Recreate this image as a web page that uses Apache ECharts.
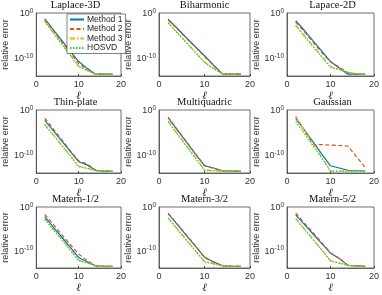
<!DOCTYPE html>
<html>
<head>
<meta charset="utf-8">
<script src="https://cdn.jsdelivr.net/npm/echarts@6/dist/echarts.min.js"></script>
<style>
html,body{margin:0;padding:0;background:#fff;}
#c{width:382px;height:295px;}
</style>
</head>
<body>
<div id="c"></div>
<script>
// ---------------- data ----------------
const ell = [2, 4, 6, 8, 10, 12, 14, 16, 18];
const titles = ['Laplace-3D', 'Biharmonic', 'Lapace-2D', 'Thin-plate', 'Multiquadric', 'Gaussian', 'Matern-1/2', 'Matern-3/2', 'Matern-5/2'];
const methodNames = ['Method 1', 'Method 2', 'Method 3', 'HOSVD'];
const xTicks = [0, 10, 20];
const yTickLabels = { '1': '0', '1e-10': '-10' };

const laplace3D_m1 = [5.0e-2, 2.0e-4, 7.9e-7, 3.2e-9, 1.6e-11, 5.0e-13, 2.5e-14, 2.5e-14, 2.5e-14];
const laplace3D_m2 = [3.2e-2, 1.3e-4, 4.0e-7, 1.6e-9, 6.3e-12, 2.5e-13, 2.5e-14, 2.5e-14, 2.5e-14];
const laplace3D_m3 = [1.6e-2, 5.0e-5, 1.6e-7, 5.0e-10, 1.6e-12, 2.0e-13, 2.5e-14, 2.5e-14, 2.5e-14];
const laplace3D_hosvd = [1.3e-2, 4.0e-5, 1.3e-7, 4.0e-10, 1.3e-12, 1.6e-13, 2.5e-14, 2.5e-14, 2.5e-14];

const biharmonic_m1 = [4.0e-2, 4.0e-4, 3.2e-6, 3.2e-8, 3.2e-10, 2.5e-12, 2.5e-14, 2.5e-14, 2.5e-14];
const biharmonic_m2 = [3.2e-2, 3.2e-4, 2.5e-6, 2.5e-8, 2.0e-10, 2.0e-12, 2.5e-14, 2.5e-14, 2.5e-14];
const biharmonic_m3 = [7.9e-3, 5.0e-5, 3.2e-7, 2.0e-9, 1.3e-11, 5.0e-13, 2.5e-14, 2.5e-14, 2.5e-14];
const biharmonic_hosvd = [6.3e-3, 4.0e-5, 2.5e-7, 1.6e-9, 1.0e-11, 4.0e-13, 2.5e-14, 2.5e-14, 2.5e-14];

const laplace2D_m1 = [2.0e-2, 1.3e-4, 6.3e-7, 3.2e-9, 1.6e-11, 6.3e-13, 2.5e-14, 2.5e-14, 2.5e-14];
const laplace2D_m2 = [1.0e-2, 6.3e-5, 3.2e-7, 1.6e-9, 1.3e-11, 1.0e-12, 6.3e-14, 2.5e-14, 2.5e-14];
const laplace2D_m3 = [2.0e-3, 1.0e-5, 5.0e-8, 2.5e-10, 1.3e-12, 3.2e-13, 6.3e-14, 3.2e-14, 2.5e-14];
const laplace2D_hosvd = [1.3e-3, 6.3e-6, 3.2e-8, 1.6e-10, 7.9e-13, 2.5e-13, 6.3e-14, 3.2e-14, 2.5e-14];

const thinPlate_m1 = [5.0e-3, 2.5e-5, 1.3e-7, 6.3e-10, 3.2e-12, 6.3e-13, 4.0e-14, 2.5e-14, 2.5e-14];
const thinPlate_m2 = [1.6e-2, 6.3e-5, 2.5e-7, 1.0e-9, 5.0e-12, 1.0e-12, 4.0e-14, 2.5e-14, 2.5e-14];
const thinPlate_m3 = [6.3e-4, 3.2e-6, 1.6e-8, 7.9e-11, 3.2e-13, 1.3e-13, 3.2e-14, 2.5e-14, 2.5e-14];
const thinPlate_hosvd = [5.0e-4, 2.5e-6, 1.3e-8, 6.3e-11, 2.5e-13, 1.0e-13, 3.2e-14, 2.5e-14, 2.5e-14];

const multiquadric_m1 = [2.0e-2, 4.0e-5, 7.9e-8, 1.6e-10, 4.0e-13, 1.3e-13, 3.2e-14, 2.5e-14, 2.5e-14];
const multiquadric_m2 = [2.5e-2, 5.0e-5, 1.0e-7, 2.0e-10, 5.0e-13, 1.0e-13, 3.2e-14, 2.5e-14, 2.5e-14];
const multiquadric_m3 = [3.2e-3, 6.3e-6, 1.3e-8, 2.5e-11, 5.0e-14, 3.2e-14, 2.5e-14, 2.5e-14, 2.5e-14];
const multiquadric_hosvd = [2.5e-3, 5.0e-6, 1.0e-8, 2.0e-11, 4.0e-14, 3.2e-14, 2.5e-14, 2.5e-14, 2.5e-14];

const gaussian_m1 = [1.3e-2, 3.2e-5, 7.9e-8, 1.6e-10, 4.0e-13, 1.3e-13, 4.0e-14, 3.2e-14, 3.2e-14];
const gaussian_m2 = [4.0e-2, 2.5e-5, 2.0e-8, 2.0e-8, 1.6e-8, 1.3e-8, 1.0e-8, 4.0e-11, 1.6e-13];
const gaussian_m3 = [3.2e-2, 3.2e-5, 3.2e-8, 3.2e-11, 2.5e-14, 2.5e-14, 2.5e-14, 2.5e-14, 2.5e-14];
const gaussian_hosvd = [2.5e-3, 5.0e-6, 1.0e-8, 2.0e-11, 2.5e-14, 2.5e-14, 2.5e-14, 2.5e-14, 2.5e-14];

const matern12_m1 = [6.3e-3, 2.5e-5, 1.3e-7, 6.3e-10, 2.5e-12, 2.5e-13, 3.2e-14, 2.5e-14, 2.5e-14];
const matern12_m2 = [2.0e-2, 1.0e-4, 5.0e-7, 2.5e-9, 1.6e-11, 5.0e-13, 3.2e-14, 2.5e-14, 2.5e-14];
const matern12_m3 = [2.0e-3, 7.9e-6, 4.0e-8, 1.6e-10, 6.3e-13, 1.6e-13, 3.2e-14, 2.5e-14, 2.5e-14];
const matern12_hosvd = [1.6e-3, 6.3e-6, 3.2e-8, 1.3e-10, 5.0e-13, 1.3e-13, 3.2e-14, 2.5e-14, 2.5e-14];

const matern32_m1 = [3.2e-2, 1.0e-4, 3.2e-7, 1.0e-9, 3.2e-12, 2.5e-13, 3.2e-14, 2.5e-14, 2.5e-14];
const matern32_m2 = [4.0e-2, 1.3e-4, 4.0e-7, 1.3e-9, 2.5e-12, 2.0e-13, 3.2e-14, 2.5e-14, 2.5e-14];
const matern32_m3 = [3.2e-3, 1.0e-5, 3.2e-8, 1.0e-10, 3.2e-13, 1.0e-13, 3.2e-14, 2.5e-14, 2.5e-14];
const matern32_hosvd = [2.5e-3, 7.9e-6, 2.5e-8, 7.9e-11, 2.5e-13, 7.9e-14, 3.2e-14, 2.5e-14, 2.5e-14];

const matern52_m1 = [1.6e-2, 1.0e-4, 6.3e-7, 4.0e-9, 2.5e-11, 1.6e-12, 4.0e-14, 3.2e-14, 2.5e-14];
const matern52_m2 = [4.0e-2, 2.0e-4, 1.3e-6, 6.3e-9, 3.2e-11, 1.6e-12, 4.0e-14, 3.2e-14, 2.5e-14];
const matern52_m3 = [2.5e-3, 1.0e-5, 4.0e-8, 1.6e-10, 5.0e-13, 1.6e-13, 4.0e-14, 3.2e-14, 2.5e-14];
const matern52_hosvd = [2.0e-3, 7.9e-6, 3.2e-8, 1.3e-10, 4.0e-13, 1.3e-13, 4.0e-14, 3.2e-14, 2.5e-14];

const panels = [
  [laplace3D_m1, laplace3D_m2, laplace3D_m3, laplace3D_hosvd],
  [biharmonic_m1, biharmonic_m2, biharmonic_m3, biharmonic_hosvd],
  [laplace2D_m1, laplace2D_m2, laplace2D_m3, laplace2D_hosvd],
  [thinPlate_m1, thinPlate_m2, thinPlate_m3, thinPlate_hosvd],
  [multiquadric_m1, multiquadric_m2, multiquadric_m3, multiquadric_hosvd],
  [gaussian_m1, gaussian_m2, gaussian_m3, gaussian_hosvd],
  [matern12_m1, matern12_m2, matern12_m3, matern12_hosvd],
  [matern32_m1, matern32_m2, matern32_m3, matern32_hosvd],
  [matern52_m1, matern52_m2, matern52_m3, matern52_hosvd]
];

// ---------------- styling / layout ----------------
const colors = ['#0072BD', '#D95319', '#EDB120', '#22dd22'];
const dashes = ['solid', [4, 2.5], [5, 2, 1.5, 2], [1.5, 1.5]];
const colLeft = [30, 159, 287];
const rowTop = [13, 110, 207];
const gw = 91, gh = 63;
const sans = 'Liberation Sans, Arial, sans-serif';
const serif = 'Liberation Serif, Times New Roman, serif';

const grids = [], xAxes = [], yAxes = [], series = [], titleComps = [];
panels.forEach((p, i) => {
  const r = Math.floor(i / 3), c = i % 3;
  grids.push({ left: colLeft[c], top: rowTop[r], width: gw, height: gh,
    show: true, borderColor: '#4a4a4a', borderWidth: 0.8, backgroundColor: '#fff' });
  titleComps.push({ text: titles[i], left: colLeft[c] + gw / 2, top: rowTop[r] - 13, padding: 0,
    textAlign: 'center',
    textStyle: { fontFamily: serif, fontSize: 10.5, fontWeight: 'normal', color: '#111' } });
  xAxes.push({ gridIndex: i, type: 'value', min: xTicks[0], max: xTicks[2], interval: 10,
    name: 'ℓ', nameLocation: 'middle', nameGap: 15,
    nameTextStyle: { fontFamily: serif, fontStyle: 'italic', fontSize: 11, color: '#222' },
    axisLine: { show: true, lineStyle: { color: '#4a4a4a', width: 0.8 } },
    axisTick: { show: true, inside: true, length: 2, lineStyle: { color: '#4a4a4a' } },
    axisLabel: { fontFamily: sans, fontSize: 9, color: '#333', margin: 4 },
    splitLine: { show: false } });
  yAxes.push({ gridIndex: i, type: 'log', logBase: 10, min: 1e-14, max: 1, interval: 2, splitNumber: 7,
    name: 'relative error', nameLocation: 'middle', nameGap: 19,
    nameTextStyle: { fontFamily: sans, fontSize: 9, color: '#333' },
    axisLine: { show: true, lineStyle: { color: '#4a4a4a', width: 0.8 } },
    axisTick: { show: false },
    axisLabel: {
      fontFamily: sans, fontSize: 9, color: '#333', margin: 3,
      formatter: function (v) {
        const lg = Math.round(Math.log10(v));
        if (Math.abs(Math.log10(v) - lg) > 1e-6) return '';
        const key = lg === 0 ? '1' : ('1e' + lg);
        return yTickLabels[key] !== undefined ? '{b|10}{s|' + yTickLabels[key] + '}' : '';
      },
      rich: {
        b: { fontFamily: sans, fontSize: 9, color: '#333', verticalAlign: 'bottom', lineHeight: 11 },
        s: { fontFamily: sans, fontSize: 6.5, color: '#333', verticalAlign: 'top', lineHeight: 8 }
      }
    },
    splitLine: { show: false } });
  p.forEach((vals, k) => {
    series.push({
      name: methodNames[k], type: 'line', xAxisIndex: i, yAxisIndex: i,
      data: ell.map((x, j) => [x, vals[j]]),
      symbol: 'none', showSymbol: false, animation: false,
      lineStyle: { color: colors[k], width: 1.2, type: dashes[k] },
      itemStyle: { color: colors[k] }, z: 2 + k
    });
  });
});

const chart = echarts.init(document.getElementById('c'), null, { renderer: 'canvas' });
chart.setOption({
  animation: false,
  backgroundColor: '#fff',
  title: titleComps,
  grid: grids,
  xAxis: xAxes,
  yAxis: yAxes,
  legend: {
    data: methodNames, left: 67, top: 14, orient: 'vertical',
    backgroundColor: '#fff', borderColor: '#333', borderWidth: 0.6,
    padding: [1, 3, 1, 2], itemGap: 0.5, itemWidth: 14, itemHeight: 8,
    itemStyle: { color: 'rgba(0,0,0,0)', borderWidth: 0, opacity: 0 },
    textStyle: { fontFamily: sans, fontSize: 8.5, color: '#222', padding: [0, 0, 0, -2] },
    selectedMode: false, z: 20
  },
  series: series
});
</script>
</body>
</html>
